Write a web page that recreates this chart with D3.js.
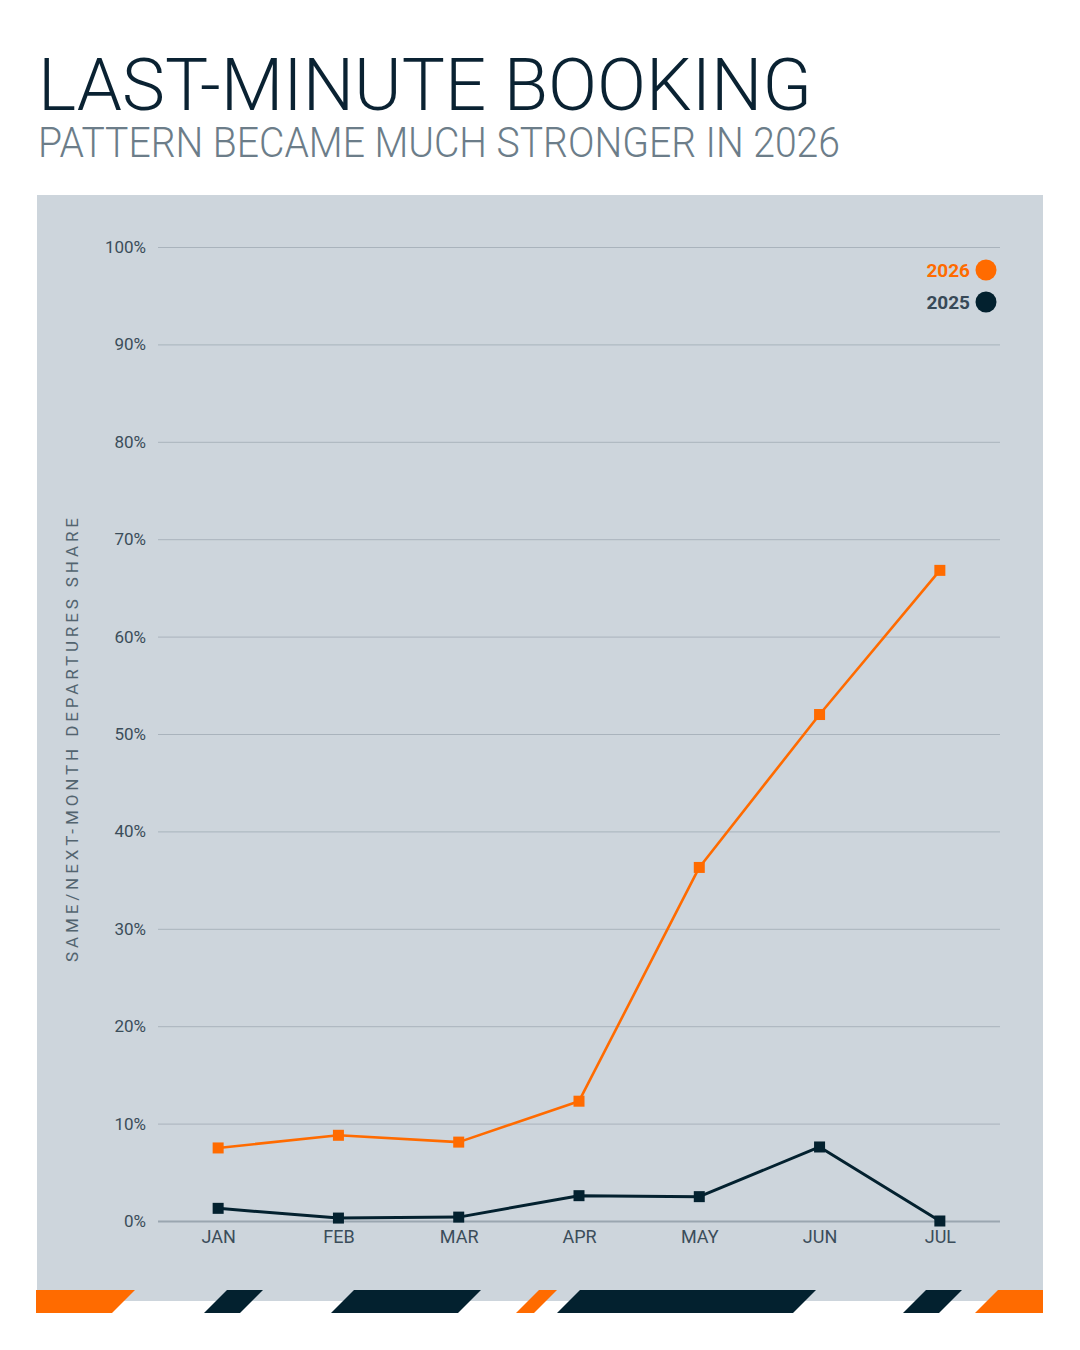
<!DOCTYPE html>
<html>
<head>
<meta charset="utf-8">
<script src="https://cdn.jsdelivr.net/npm/d3@7"></script>
<style>
  html, body { margin: 0; padding: 0; background: #ffffff; }
  svg { display: block; }
</style>
</head>
<body>
<div id="chart"></div>
<script>
// data
const months = ['JAN', 'FEB', 'MAR', 'APR', 'MAY', 'JUN', 'JUL'];
const share2026 = [7.5, 8.8, 8.1, 12.3, 36.3, 52.0, 66.8];
const share2025 = [1.3, 0.3, 0.4, 2.6, 2.5, 7.6, 0.0];
const yTicks = [0, 10, 20, 30, 40, 50, 60, 70, 80, 90, 100];
const legendItems = ['2026', '2025'];

const W = 1080, H = 1350;
const orange = '#ff6b00';
const navy = '#03212f';
const margin = { top: 247, right: 80, bottom: 129, left: 158 };

const svg = d3.select('#chart').append('svg')
  .attr('width', W)
  .attr('height', H);

// title
svg.append('text')
  .attr('x', 38).attr('y', 110)
  .attr('font-family', 'Roboto, sans-serif')
  .attr('font-weight', 300)
  .attr('font-size', 72)
  .attr('fill', '#0a2232')
  .attr('textLength', 774)
  .attr('lengthAdjust', 'spacingAndGlyphs')
  .text('LAST-MINUTE BOOKING');

svg.append('text')
  .attr('x', 38).attr('y', 157)
  .attr('font-family', 'Roboto, sans-serif')
  .attr('font-weight', 300)
  .attr('font-size', 42)
  .attr('fill', '#6c7d89')
  .attr('textLength', 802)
  .attr('lengthAdjust', 'spacingAndGlyphs')
  .text('PATTERN BECAME MUCH STRONGER IN 2026');

// panel
svg.append('rect')
  .attr('x', 37).attr('y', 195)
  .attr('width', 1006).attr('height', 1106)
  .attr('fill', '#cdd5dc');

const x = d3.scalePoint()
  .domain(months)
  .range([margin.left, W - margin.right])
  .padding(0.5);

const y = d3.scaleLinear()
  .domain([0, 100])
  .range([H - margin.bottom, margin.top]);

// y axis + gridlines
const yAxisG = svg.append('g')
  .attr('transform', `translate(${margin.left},0)`)
  .call(d3.axisLeft(y)
    .tickValues(yTicks)
    .tickSize(-(W - margin.right - margin.left))
    .tickPadding(12)
    .tickFormat(d => d + '%'));

yAxisG.select('.domain').remove();
yAxisG.selectAll('.tick line')
  .attr('stroke', d => d === 0 ? '#9aa6b0' : '#a9b3bc')
  .attr('stroke-width', d => d === 0 ? 2 : 1);
yAxisG.selectAll('.tick text')
  .attr('font-family', 'Roboto, sans-serif')
  .attr('font-size', 17)
  .attr('fill', '#3b4d5a');

// x axis
const xAxisG = svg.append('g')
  .attr('transform', `translate(0,${H - margin.bottom})`)
  .call(d3.axisBottom(x).tickSize(0).tickPadding(9));

xAxisG.select('.domain').remove();
xAxisG.selectAll('.tick text')
  .attr('font-family', 'Roboto, sans-serif')
  .attr('font-size', 18)
  .attr('fill', '#3b4d5a');

// axis title
svg.append('text')
  .attr('transform', `translate(78,740) rotate(-90)`)
  .attr('text-anchor', 'middle')
  .attr('font-family', 'Roboto, sans-serif')
  .attr('font-size', 17)
  .attr('textLength', 444)
  .attr('lengthAdjust', 'spacing')
  .attr('fill', '#53646f')
  .text('SAME/NEXT-MONTH DEPARTURES SHARE');

// lines
const line = d3.line()
  .x((d, i) => x(months[i]))
  .y(d => y(d));

const series = [
  { key: '2025', values: share2025, color: navy, width: 3 },
  { key: '2026', values: share2026, color: orange, width: 2.6 }
];

series.forEach(s => {
  svg.append('path')
    .datum(s.values)
    .attr('fill', 'none')
    .attr('stroke', s.color)
    .attr('stroke-width', s.width)
    .attr('stroke-linejoin', 'round')
    .attr('d', line);

  svg.append('g').selectAll('rect')
    .data(s.values)
    .join('rect')
    .attr('x', (d, i) => x(months[i]) - 5.5)
    .attr('y', d => y(d) - 5.5)
    .attr('width', 11)
    .attr('height', 11)
    .attr('fill', s.color);
});

// legend
const legendColors = { '2026': orange, '2025': navy };
const legendText = { '2026': orange, '2025': '#374957' };
const legend = svg.append('g');
legendItems.forEach((k, i) => {
  const cy = 270 + i * 32;
  legend.append('circle')
    .attr('cx', 986).attr('cy', cy).attr('r', 10.5)
    .attr('fill', legendColors[k]);
  legend.append('text')
    .attr('x', 970).attr('y', cy)
    .attr('dy', '0.35em')
    .attr('text-anchor', 'end')
    .attr('font-family', 'Roboto, sans-serif')
    .attr('font-weight', 700)
    .attr('font-size', 19)
    .attr('fill', legendText[k])
    .text(k);
});

// decorative stripe along the bottom
const stripeTop = 1290, stripeH = 23, slant = 23;
const stripes = [
  { x0: 36, x1: 135, c: orange, flatLeft: true },
  { x0: 227, x1: 263, c: navy },
  { x0: 354, x1: 481, c: navy },
  { x0: 539, x1: 557, c: orange },
  { x0: 580, x1: 816, c: navy },
  { x0: 926, x1: 962, c: navy },
  { x0: 998, x1: 1043, c: orange, flatRight: true }
];
svg.append('g').selectAll('path')
  .data(stripes)
  .join('path')
  .attr('fill', d => d.c)
  .attr('d', d => {
    const bl = d.flatLeft ? d.x0 : d.x0 - slant;
    const br = d.flatRight ? d.x1 : d.x1 - slant;
    return `M${d.x0},${stripeTop}L${d.x1},${stripeTop}L${br},${stripeTop + stripeH}L${bl},${stripeTop + stripeH}Z`;
  });
</script>
</body>
</html>
